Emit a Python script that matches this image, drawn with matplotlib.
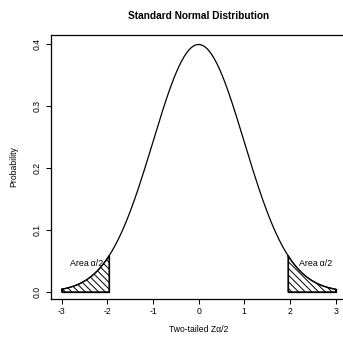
import numpy as np
import matplotlib
matplotlib.use("Agg")
import matplotlib.pyplot as plt

plt.rcParams['font.family'] = ['Liberation Sans', 'DejaVu Sans']
plt.rcParams['hatch.linewidth'] = 0.7

# parameters of the distribution and chart content
mu, sigma = 0.0, 1.0
z_range = (-3.0, 3.0)
z_crit = 1.96
x_ticks = [-3, -2, -1, 0, 1, 2, 3]
y_ticks = [0.0, 0.1, 0.2, 0.3, 0.4]
y_ticklabels = ["0.0", "0.1", "0.2", "0.3", "0.4"]
title = "Standard Normal Distribution"
xlabel = "Two-tailed Z\u03b1/2"
ylabel = "Probability"
area_label = "Area\u2009\u03b1/2"
area_label_pos = [(-2.45, 0.0456), (2.57, 0.0456)]


def pdf(x):
    return np.exp(-0.5 * ((x - mu) / sigma) ** 2) / (sigma * np.sqrt(2 * np.pi))


x = np.linspace(z_range[0], z_range[1], 601)
y = pdf(x)

fig = plt.figure(figsize=(3.43, 3.39), dpi=100)
ax = fig.add_axes([50.7 / 343, 40 / 339, (346.5 - 50.7) / 343, (304.3 - 40) / 339])

ax.plot(x, y, color='black', lw=0.9)

xl = np.linspace(z_range[0], -z_crit, 100)
xr = np.linspace(z_crit, z_range[1], 100)
for xs in (xl, xr):
    ax.fill_between(xs, 0, pdf(xs), facecolor='none', edgecolor='black',
                    hatch='\\\\\\\\\\', lw=0.9)
    ax.plot([xs[0], xs[0], xs[-1], xs[-1]], [pdf(xs[0]), 0, 0, pdf(xs[-1])],
            color='black', lw=0.9)

for (tx, ty) in area_label_pos:
    ax.text(tx, ty, area_label, ha='center', va='center', fontsize=6.4)

xmin, xmax = x.min(), x.max()
ymin, ymax = y.min(), y.max()
dx = (xmax - xmin) * 0.04
dy = (ymax - ymin) * 0.04
ax.set_xlim(xmin - dx, xmax + dx)
ax.set_ylim(ymin - dy, ymax + dy)

ax.set_xticks(x_ticks)
ax.set_xticklabels([str(t) for t in x_ticks])
ax.set_yticks(y_ticks)
ax.set_yticklabels(y_ticklabels, rotation=90, va='center')
ax.tick_params(axis='both', labelsize=6.2, length=3.5, width=0.75)
ax.tick_params(axis='x', pad=2.5)
ax.tick_params(axis='y', pad=3.2)
for s in ax.spines.values():
    s.set_linewidth(0.9)

ax.set_title(title, fontsize=7.3, fontweight='bold', pad=11)
ax.set_xlabel(xlabel, fontsize=6.2, labelpad=6.5)
ax.set_ylabel(ylabel, fontsize=6.2, labelpad=10)

fig.savefig("out.png", dpi=100)
